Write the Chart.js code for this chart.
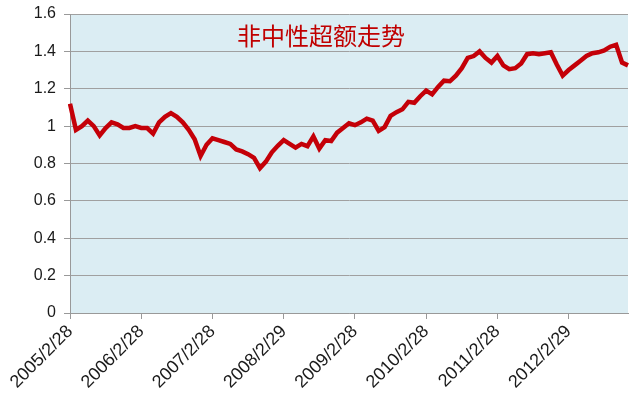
<!DOCTYPE html>
<html>
<head>
<meta charset="utf-8">
<script src="https://cdn.jsdelivr.net/npm/chart.js@4"></script>
<style>
  html, body { margin: 0; padding: 0; background: #fff; }
  #wrap { width: 633px; height: 405px; }
</style>
</head>
<body>
<div id="wrap"><canvas id="chart" width="633" height="405"></canvas></div>
<script>
// Chart title (drawn inside the plot)
const chartTitle = '非中性超额走势';

// Labels shown on the x axis (one per year)
const tickLabels = ['2005/2/28', '2006/2/28', '2007/2/28', '2008/2/29', '2009/2/28', '2010/2/28', '2011/2/28', '2012/2/29'];

// Monthly categories: month-end dates from 2005/2 to 2012/12
const categories = [];
for (let i = 0; i < 95; i++) {
    const y = 2005 + Math.floor((i + 1) / 12);
    const m = (i + 1) % 12 + 1;
    const last = new Date(y, m, 0).getDate();
    categories.push(y + '/' + m + '/' + last);
}

// Non-neutral excess value
const excess = [
    1.12, 0.98, 1.00, 1.03, 1.00, 0.95, 0.99, 1.02, 1.01, 0.99,
    0.99, 1.00, 0.99, 0.99, 0.96, 1.02, 1.05, 1.07, 1.05, 1.02,
    0.98, 0.93, 0.84, 0.90, 0.935, 0.925, 0.915, 0.905, 0.875, 0.865,
    0.85, 0.83, 0.775, 0.81, 0.86, 0.895, 0.925, 0.905, 0.885, 0.905,
    0.893, 0.945, 0.88, 0.925, 0.92, 0.965, 0.99, 1.015, 1.005, 1.02,
    1.04, 1.03, 0.975, 0.995, 1.055, 1.075, 1.09, 1.13, 1.125, 1.16,
    1.19, 1.17, 1.21, 1.243, 1.24, 1.27, 1.31, 1.365, 1.375, 1.40,
    1.365, 1.34, 1.375, 1.325, 1.305, 1.31, 1.335, 1.385, 1.39, 1.385,
    1.39, 1.395, 1.33, 1.27, 1.30, 1.325, 1.35, 1.375, 1.39, 1.395,
    1.405, 1.425, 1.435, 1.34, 1.325
];

// fill plot area and draw the title inside it
const plotBackground = {
    id: 'plotBackground',
    beforeDraw(chart) {
        const a = chart.chartArea;
        const c = chart.ctx;
        c.save();
        c.fillStyle = '#DBEDF3';
        c.fillRect(a.left, a.top, a.right - a.left, a.bottom - a.top);
        c.restore();
    },
    afterDatasetsDraw(chart) {
        const a = chart.chartArea;
        const c = chart.ctx;
        c.save();
        c.fillStyle = '#C00000';
        c.font = '24px "Noto Sans CJK SC"';
        c.textAlign = 'center';
        c.textBaseline = 'middle';
        c.fillText(chartTitle, a.left + (a.right - a.left) * 0.45, a.top + 22);
        c.restore();
    }
};

const isYearTick = (i) => tickLabels.includes(categories[i]);

new Chart(document.getElementById('chart'), {
    type: 'line',
    data: {
        labels: categories,
        datasets: [{
            data: excess,
            borderColor: '#C40008',
            borderWidth: 4.5,
            pointRadius: 0,
            tension: 0,
            fill: false
        }]
    },
    options: {
        responsive: false,
        animation: false,
        layout: { padding: { top: 14, right: 5, left: 0, bottom: 0 } },
        plugins: {
            legend: { display: false },
            tooltip: { enabled: false }
        },
        scales: {
            x: {
                offset: false,
                afterFit: (s) => {
                    s.height = 92;
                    s.paddingLeft = 0;
                    s.paddingRight = 0;
                },
                grid: {
                    drawOnChartArea: false,
                    tickLength: 6,
                    tickColor: (ctx) => isYearTick(ctx.index) ? '#999' : 'rgba(0,0,0,0)'
                },
                border: { color: '#999', width: 1 },
                ticks: {
                    autoSkip: false,
                    maxRotation: 45,
                    minRotation: 45,
                    padding: 2,
                    color: '#1a1a1a',
                    font: { family: 'Liberation Sans', size: 18 },
                    callback: (v, i) => isYearTick(i) ? categories[i] : ''
                }
            },
            y: {
                min: 0,
                max: 1.6,
                afterFit: (s) => {
                    s.width = 70;
                    s.paddingTop = 0;
                    s.paddingBottom = 0;
                },
                grid: {
                    color: '#A0A0A0',
                    lineWidth: 1,
                    tickLength: 6,
                    tickColor: '#999'
                },
                border: { color: '#999', width: 1 },
                ticks: {
                    stepSize: 0.2,
                    padding: 8,
                    color: '#1a1a1a',
                    font: { family: 'Liberation Sans', size: 16 },
                    callback: (v) => Math.round(v * 10) / 10
                }
            }
        }
    },
    plugins: [plotBackground]
});
</script>
</body>
</html>
